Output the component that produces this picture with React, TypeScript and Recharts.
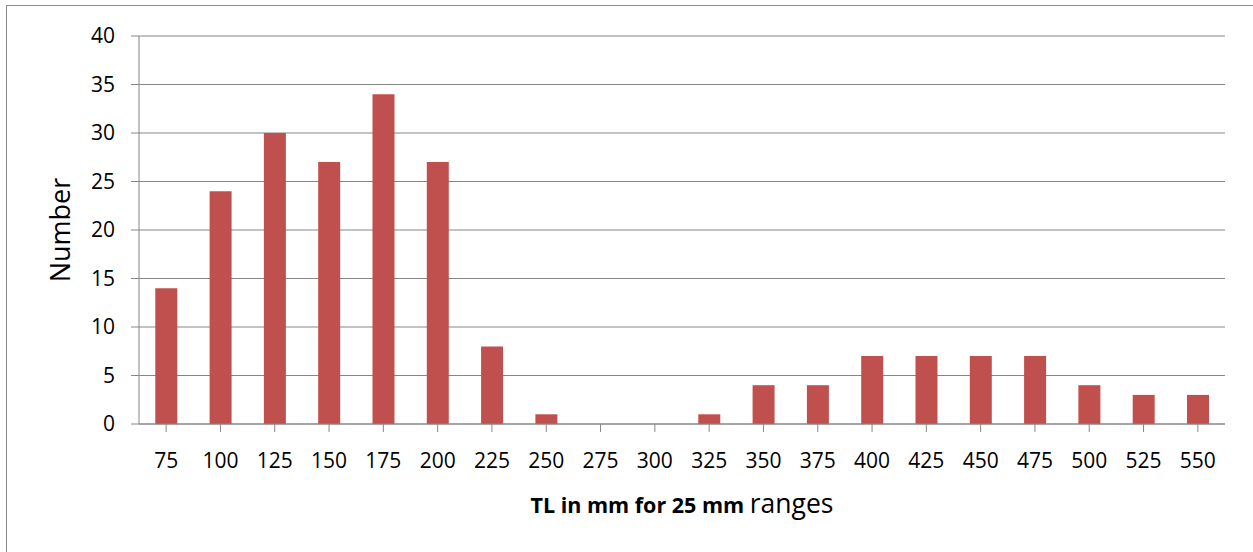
import { BarChart, Bar, XAxis, YAxis, CartesianGrid, Label } from "recharts";

const ranges = ["75", "100", "125", "150", "175", "200", "225", "250", "275", "300", "325", "350", "375", "400", "425", "450", "475", "500", "525", "550"];
const counts = [14, 24, 30, 27, 34, 27, 8, 1, 0, 0, 1, 4, 4, 7, 7, 7, 7, 4, 3, 3];
const yTicks = [0, 5, 10, 15, 20, 25, 30, 35, 40];

const data = ranges.map((r, i) => ({ range: r, count: counts[i] }));

const FONT = "'Open Sans', sans-serif";

function XTitle(props: any) {
  const vb = props.viewBox;
  const cx = vb.x + vb.width / 2;
  return (
    <text x={cx} y={vb.y + 89} textAnchor="middle" fontFamily={FONT} fill="#000">
      <tspan fontWeight="bold" fontSize={21.5}>TL in mm for 25 mm </tspan>
      <tspan fontSize={26.5}>ranges</tspan>
    </text>
  );
}

function YTitle(props: any) {
  const vb = props.viewBox;
  const cy = vb.y + vb.height / 2;
  const x = 70;
  return (
    <text x={x} y={cy} transform={`rotate(-90 ${x} ${cy})`} textAnchor="middle" fontFamily={FONT} fontSize={27} fill="#000">
      Number
    </text>
  );
}

export default function App() {
  return (
    <div style={{ position: "absolute", left: 0, top: 0, width: 1253, height: 552, background: "#fff", overflow: "hidden" }}>
      <div style={{ position: "absolute", left: 6, top: 5, width: 1260, height: 560, border: "1px solid #8c8c8c" }} />
      <div style={{ position: "absolute", left: 0, top: 0 }}>
        <BarChart width={1253} height={552} data={data} margin={{ top: 36, right: 28, left: 59, bottom: 68 }} barCategoryGap="30%">
          <CartesianGrid vertical={false} stroke="#868686" strokeWidth={1} />
          <XAxis
            dataKey="range"
            interval={0}
            tickLine={{ stroke: "#868686" }}
            axisLine={{ stroke: "#868686" }}
            tickSize={8}
            tickMargin={21}
            height={60}
            tick={{ fontSize: 21, fill: "#000", fontFamily: FONT }}
          >
            <Label content={<XTitle />} />
          </XAxis>
          <YAxis
            domain={[0, 40]}
            ticks={yTicks}
            interval={0}
            width={80}
            tickLine={{ stroke: "#868686" }}
            axisLine={{ stroke: "#868686" }}
            tickSize={8}
            tickMargin={16}
            tick={{ fontSize: 21, fill: "#000", fontFamily: FONT }}
          >
            <Label content={<YTitle />} />
          </YAxis>
          <Bar dataKey="count" fill="#C0504D" isAnimationActive={false} />
        </BarChart>
      </div>
    </div>
  );
}
